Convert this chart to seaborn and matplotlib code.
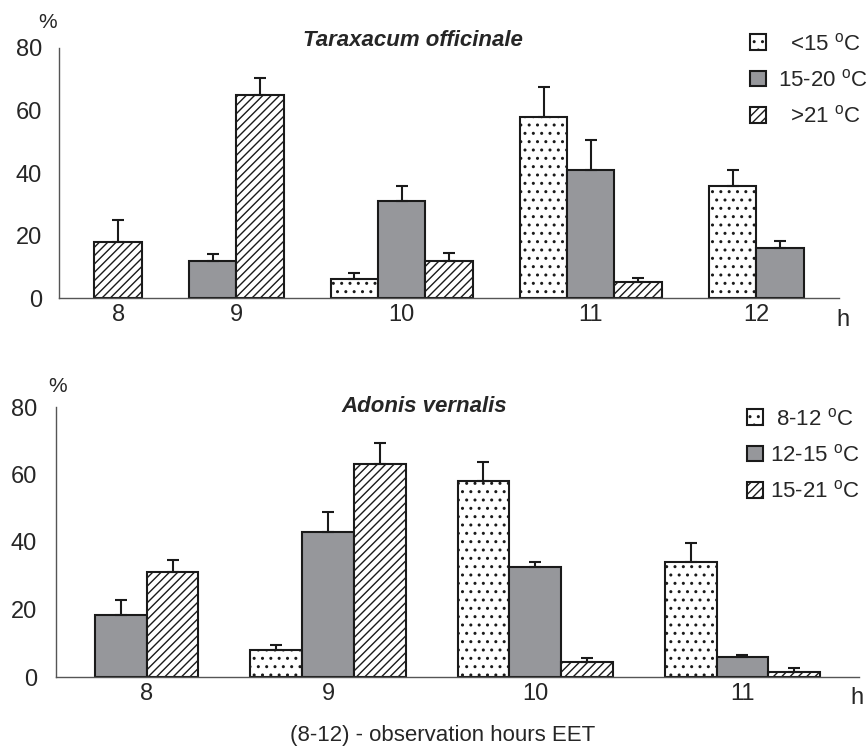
import numpy as np
import pandas as pd
import seaborn as sns
import matplotlib.pyplot as plt
import matplotlib.patches as mpatches

# --- data (% of visits, upper error) ---
hours_top = ['8', '9', '10', '11', '12']
labels_top = ['<15', '15-20', '>21']
taraxacum_cold = [np.nan, np.nan, 6, 58, 36]
taraxacum_mid = [np.nan, 12, 31, 41, 16]
taraxacum_warm = [18, 65, 12, 5, np.nan]
taraxacum_cold_err = [np.nan, np.nan, 2, 9.4, 5]
taraxacum_mid_err = [np.nan, 2.1, 5, 9.6, 2.4]
taraxacum_warm_err = [7, 5.4, 2.5, 1.3, np.nan]

hours_bottom = ['8', '9', '10', '11']
labels_bottom = ['8-12', '12-15', '15-21']
adonis_cold = [np.nan, 8, 58, 34]
adonis_mid = [18.4, 43, 32.5, 6]
adonis_warm = [31, 63, 4.4, 1.4]
adonis_cold_err = [np.nan, 1.5, 5.7, 5.8]
adonis_mid_err = [4.3, 6, 1.7, 0.5]
adonis_warm_err = [3.7, 6.4, 1.3, 1.2]

EDGE = '#1a1a1a'
GRAY = '#96979b'
FACES = ['white', GRAY, 'white']
HATCHES = ['..', None, '////']


def build_frame(hours, labels, series, errors):
    """Pack the present bars side by side, one empty bar slot between hours."""
    rows = []
    centers = []
    pos = 0
    for i, h in enumerate(hours):
        start = pos
        for k, lab in enumerate(labels):
            v = series[k][i]
            if np.isnan(v):
                continue
            rows.append(dict(hour=h, temp=lab, kind=k, value=v,
                             err=errors[k][i], pos=pos))
            pos += 1
        centers.append((start + pos - 1) / 2)
        pos += 1
    return pd.DataFrame(rows), centers


def temp_label(t, lead=''):
    return lead + t + r' $^{\mathrm{o}}$C'


def draw_panel(ax, df, centers, hours, ypad):
    sns.barplot(data=df, x='pos', y='value', native_scale=True, width=1,
                color='white', edgecolor=EDGE, linewidth=1.5,
                errorbar=None, ax=ax)
    for p in ax.patches:
        c = p.get_x() + p.get_width() / 2
        row = df.loc[(df['pos'] - c).abs().idxmin()]
        k = int(row['kind'])
        p.set_facecolor(FACES[k])
        p.set_edgecolor(EDGE)
        if HATCHES[k]:
            p.set_hatch(HATCHES[k])
    ax.errorbar(df['pos'], df['value'],
                yerr=[np.zeros(len(df)), df['err']],
                fmt='none', ecolor=EDGE, elinewidth=1.5,
                capsize=4.5, capthick=1.5, zorder=3)

    lo, hi = -1.25, df['pos'].max() + 1.25
    ax.set_xlim(lo, hi)
    ax.set_ylim(0, 80)
    ax.set_yticks([0, 20, 40, 60, 80])
    ax.set_xticks(centers)
    ax.set_xticklabels(hours)
    ax.set_xticks([lo, hi], minor=True)
    ax.tick_params(axis='x', which='major', length=0, pad=4, labelsize=17)
    ax.tick_params(axis='x', which='minor', length=5.2, width=1, color='#555555')
    ax.tick_params(axis='y', length=5.2, width=1, color='#555555', pad=ypad,
                   labelsize=17)
    ax.set_xlabel('')
    ax.set_ylabel('')
    sns.despine(ax=ax)
    for s in ['left', 'bottom']:
        ax.spines[s].set_color('#555555')
        ax.spines[s].set_linewidth(1)


def legend_handles():
    return [mpatches.Patch(facecolor=FACES[k], edgecolor=EDGE, hatch=HATCHES[k],
                           linewidth=1.5) for k in range(3)]


sns.set_style('white')
plt.rcParams['font.family'] = ['Liberation Sans', 'DejaVu Sans']
plt.rcParams['mathtext.fontset'] = 'custom'
plt.rcParams['mathtext.rm'] = 'Liberation Sans'
plt.rcParams['hatch.linewidth'] = 1.0

W, H = 868, 746
fig = plt.figure(figsize=(W / 100, H / 100), dpi=100)
ax_top = fig.add_axes([59 / W, 1 - 298 / H, 780 / W, 250 / H])
ax_bot = fig.add_axes([56 / W, 1 - 677 / H, 803 / W, 270 / H])

df_top, c_top = build_frame(hours_top, labels_top,
                            [taraxacum_cold, taraxacum_mid, taraxacum_warm],
                            [taraxacum_cold_err, taraxacum_mid_err, taraxacum_warm_err])
df_bot, c_bot = build_frame(hours_bottom, labels_bottom,
                            [adonis_cold, adonis_mid, adonis_warm],
                            [adonis_cold_err, adonis_mid_err, adonis_warm_err])

draw_panel(ax_top, df_top, c_top, hours_top, ypad=7)
draw_panel(ax_bot, df_bot, c_bot, hours_bottom, ypad=8.5)

# titles, units, axis notes
fig.text(413 / W, 1 - 40 / H, 'Taraxacum officinale', fontsize=16,
         fontweight='bold', fontstyle='italic', ha='center', va='center')
fig.text(424 / W, 1 - 407 / H, 'Adonis vernalis', fontsize=16,
         fontweight='bold', fontstyle='italic', ha='center', va='center')
fig.text(48 / W, 1 - 22 / H, '%', fontsize=15, ha='center', va='center')
fig.text(58 / W, 1 - 387 / H, '%', fontsize=15, ha='center', va='center')
fig.text(843 / W, 1 - 320 / H, 'h', fontsize=17, ha='center', va='center')
fig.text(857 / W, 1 - 698 / H, 'h', fontsize=17, ha='center', va='center')
fig.text(443 / W, 1 - 735 / H, '(8-12) - observation hours EET', fontsize=16,
         ha='center', va='center')

fig.legend(legend_handles(),
           [temp_label(labels_top[0], '  '), temp_label(labels_top[1]),
            temp_label(labels_top[2], '  ')],
           loc='upper left', bbox_to_anchor=(750 / W, 1 - 33 / H),
           frameon=False, fontsize=16, handlelength=0.7, handleheight=0.7,
           handletextpad=0.55, labelspacing=0.65, borderpad=0, borderaxespad=0)
fig.legend(legend_handles(),
           [temp_label(labels_bottom[0], ' '), temp_label(labels_bottom[1]),
            temp_label(labels_bottom[2])],
           loc='upper left', bbox_to_anchor=(747 / W, 1 - 408 / H),
           frameon=False, fontsize=16, handlelength=0.7, handleheight=0.7,
           handletextpad=0.35, labelspacing=0.65, borderpad=0, borderaxespad=0)

fig.savefig('out.png', dpi=100)
